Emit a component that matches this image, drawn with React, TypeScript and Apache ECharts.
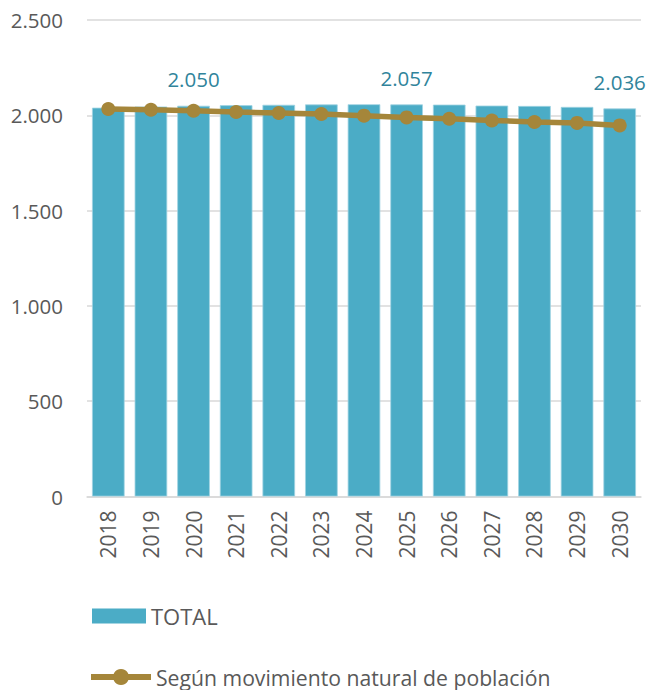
import React, { useEffect, useRef } from "react";
import * as echarts from "echarts";

const years = ["2018","2019","2020","2021","2022","2023","2024","2025","2026","2027","2028","2029","2030"];
const totalValues = [2040, 2046, 2050, 2053, 2055, 2057, 2058, 2057, 2056, 2051, 2049, 2044, 2036];
const naturalValues = [2033, 2029, 2024, 2017, 2012, 2007, 1998, 1989, 1982, 1973, 1965, 1960, 1947];
const labeledYears = ["2020", "2025", "2030"];
const seriesNames = ["TOTAL", "Según movimiento natural de población"];

const FONT = "'Open Sans', sans-serif";
const LINE_COLOR = "#a5863a";

function fmt(v: number): string {
  const s = String(Math.round(v));
  return s.replace(/\B(?=(\d{3})+(?!\d))/g, ".");
}

export default function App() {
  const ref = useRef<HTMLDivElement>(null);
  useEffect(() => {
    document.body.style.margin = "0";
    const chart = echarts.init(ref.current!, null, { renderer: "svg" });
    const barData = totalValues.map((v, i) => ({
      value: v,
      label: { show: labeledYears.includes(years[i]) },
    }));
    chart.setOption({
      animation: false,
      grid: { left: 87, right: 8, top: 20, bottom: 193.5, containLabel: false },
      legend: [
        {
          data: [{ name: seriesNames[0], icon: "rect", itemStyle: { borderWidth: 0 } }],
          left: 92,
          top: 604,
          padding: 0,
          itemWidth: 54,
          itemHeight: 15,
          itemGap: 0,
          textStyle: { fontFamily: FONT, fontSize: 22, color: "#595959", lineHeight: 24 },
        },
        {
          data: [
            {
              name: seriesNames[1],
              lineStyle: { width: 6, color: LINE_COLOR },
              itemStyle: { color: LINE_COLOR },
            },
          ],
          left: 88,
          top: 665,
          padding: 0,
          itemWidth: 60,
          itemHeight: 20,
          itemGap: 0,
          textStyle: { fontFamily: FONT, fontSize: 21.2, color: "#595959", lineHeight: 24 },
        },
      ],
      xAxis: {
        type: "category",
        data: years,
        axisLine: { lineStyle: { color: "#d9d9d9", width: 1.5 } },
        axisTick: { show: false },
        axisLabel: {
          rotate: 90,
          margin: 14,
          fontFamily: FONT,
          fontSize: 21,
          color: "#595959",
          interval: 0,
        },
      },
      yAxis: {
        type: "value",
        min: 0,
        max: 2500,
        interval: 500,
        axisLine: { show: false },
        axisTick: { show: false },
        splitLine: { lineStyle: { color: "#d9d9d9", width: 1.5 } },
        axisLabel: {
          margin: 24,
          fontFamily: FONT,
          fontSize: 20.5,
          color: "#595959",
          formatter: (v: number) => fmt(v),
        },
      },
      series: [
        {
          name: seriesNames[0],
          type: "bar",
          data: barData,
          barCategoryGap: "23.5%",
          itemStyle: { color: "#4bacc6", borderColor: "#9fd3e2", borderWidth: 0.8 },
          label: {
            position: "top",
            distance: 16,
            fontFamily: FONT,
            fontSize: 20.5,
            color: "#31849b",
            formatter: (p: any) => fmt(p.value),
          },
          z: 2,
        },
        {
          name: seriesNames[1],
          type: "line",
          data: naturalValues,
          symbol: "circle",
          symbolSize: 14,
          lineStyle: { color: LINE_COLOR, width: 5.5 },
          itemStyle: { color: LINE_COLOR },
          z: 3,
        },
      ],
    });
    return () => chart.dispose();
  }, []);
  return <div ref={ref} style={{ width: 649, height: 690 }} />;
}
